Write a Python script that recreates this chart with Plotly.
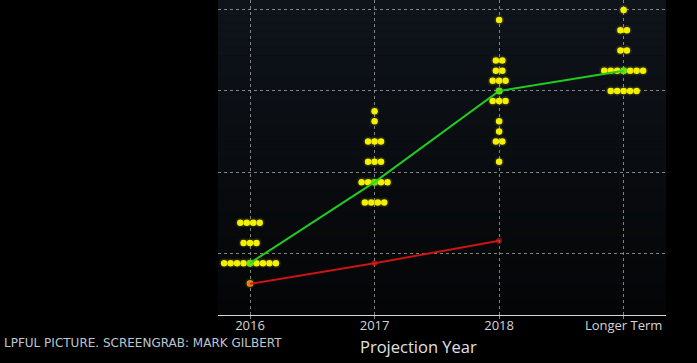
import plotly.graph_objects as go

# ---- data ----
categories = ["2016", "2017", "2018", "Longer Term"]
# dot plot: (rate level, number of dots) per category
dots_2016 = [(0.625, 1), (0.875, 9), (1.125, 3), (1.375, 4)]
dots_2017 = [(1.625, 4), (1.875, 5), (2.125, 3), (2.375, 3), (2.625, 1), (2.75, 1)]
dots_2018 = [(2.125, 1), (2.375, 2), (2.5, 1), (2.625, 1), (2.875, 3), (3.0, 1),
             (3.125, 3), (3.25, 2), (3.375, 2), (3.875, 1)]
dots_longer = [(3.0, 5), (3.25, 7), (3.5, 2), (3.75, 2), (4.0, 1)]
median_values = [0.875, 1.875, 3.0, 3.25]
market_categories = ["2016", "2017", "2018"]
market_values = [0.62, 0.873, 1.152]
y_ticks = [1, 2, 3, 4]

# ---- build dot positions ----
DOT_STEP = 0.052
all_dots = [dots_2016, dots_2017, dots_2018, dots_longer]
dx, dy = [], []
for ci, col in enumerate(all_dots):
    for level, n in col:
        for i in range(n):
            dx.append(ci + (i - (n - 1) / 2) * DOT_STEP)
            dy.append(level)

fig = go.Figure()

# glow
fig.add_trace(go.Scatter(x=dx, y=dy, mode="markers",
                         marker=dict(size=10, color="rgba(255,255,0,0.10)", line=dict(width=0)),
                         hoverinfo="skip", showlegend=False))
fig.add_trace(go.Scatter(x=dx, y=dy, mode="markers",
                         marker=dict(size=6.5, color="#f4f000", line=dict(width=0)),
                         showlegend=False))

# median line (green)
fig.add_trace(go.Scatter(x=list(range(len(categories))), y=median_values,
                         mode="lines+markers",
                         line=dict(color="#1fcc1f", width=2),
                         marker=dict(size=7, color="rgba(60,220,30,0.75)"),
                         showlegend=False))
# market line (red)
fig.add_trace(go.Scatter(x=list(range(len(market_categories))), y=market_values,
                         mode="lines+markers",
                         line=dict(color="#cc1414", width=2),
                         marker=dict(size=6, color="rgba(230,30,20,0.55)"),
                         showlegend=False))

# gradient plot background
N = 40
top = (15, 20, 27)
bot = (4, 5, 6)
shapes = []
for i in range(N):
    t = i / (N - 1)
    c = tuple(int(round(top[k] + (bot[k] - top[k]) * t)) for k in range(3))
    shapes.append(dict(type="rect", xref="paper", yref="paper",
                       x0=0, x1=1, y0=1 - (i + 1) / N, y1=1 - i / N,
                       fillcolor="rgb(%d,%d,%d)" % c, line=dict(width=0), layer="below"))

fig.update_layout(
    width=697, height=363,
    margin=dict(l=218, r=31, t=0, b=48),
    paper_bgcolor="#000000",
    plot_bgcolor="#0a0d11",
    shapes=shapes,
    xaxis=dict(range=[-0.257, 3.34], tickmode="array",
               tickvals=list(range(len(categories))), ticktext=categories,
               showgrid=True, gridcolor="rgba(170,170,170,0.75)", griddash="dot", gridwidth=1,
               showline=True, linecolor="#d8d8d8", linewidth=1,
               ticks="outside", ticklen=3, tickcolor="rgba(170,170,170,0.8)",
               ticklabelstandoff=-5,
               tickfont=dict(family="Open Sans", size=13, color="#d4d4d4"),
               zeroline=False, fixedrange=True),
    yaxis=dict(range=[0.235, 4.123], tickmode="array", tickvals=y_ticks,
               showticklabels=False,
               showgrid=True, gridcolor="rgba(170,170,170,0.75)", griddash="dot", gridwidth=1,
               zeroline=False, showline=False, fixedrange=True),
    annotations=[
        dict(text="Projection Year", xref="paper", yref="paper",
             x=(418 - 218) / 448, y=-(346 - 315) / 315, xanchor="center", yanchor="middle",
             showarrow=False, font=dict(family="Open Sans", size=16.5, color="#e0e0e0")),
        dict(text="LPFUL PICTURE. SCREENGRAB: MARK GILBERT", xref="paper", yref="paper",
             x=(2 - 218) / 448, y=-(343 - 315) / 315, xanchor="left", yanchor="middle",
             showarrow=False, font=dict(family="DejaVu Sans", size=12, color="#bcc6d0")),
    ],
)

fig.write_html("out.html", config={"displayModeBar": False},
               post_script=["document.body.style.margin='0';"])
